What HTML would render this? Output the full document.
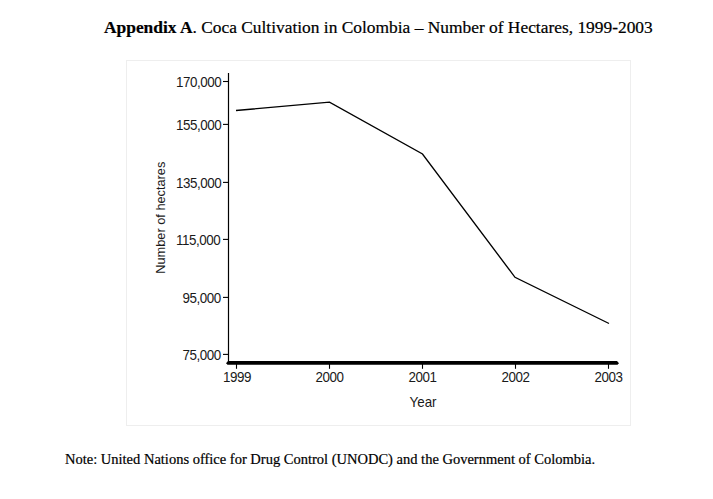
<!DOCTYPE html>
<html><head><meta charset="utf-8">
<style>
html,body{margin:0;padding:0;background:#fff;width:713px;height:499px;overflow:hidden;position:relative}
.t{position:absolute;white-space:nowrap;-webkit-text-stroke:0.2px #000;font-family:"Liberation Serif",serif;color:#000}
#title{left:104px;top:17px;font-size:17.4px}
#title b{font-weight:bold}
#note{left:65px;top:451px;font-size:14.5px}
svg{position:absolute;left:0;top:0}
.s{font-family:"Liberation Sans",sans-serif;font-size:13.4px;fill:#1a1a1a}
.d{letter-spacing:-0.45px}
</style></head><body>
<div class="t" id="title"><b>Appendix A</b>. Coca Cultivation in Colombia &ndash; Number of Hectares, 1999-2003</div>
<svg width="713" height="499" viewBox="0 0 713 499">
<rect x="126.5" y="60.5" width="504" height="365" fill="none" stroke="#eeeeee" stroke-width="1"/>
<line x1="228.5" y1="73" x2="228.5" y2="362" stroke="#000" stroke-width="1.2"/>
<g stroke="#000" stroke-width="1.1">
<line x1="223" y1="81.5" x2="228.5" y2="81.5"/>
<line x1="223" y1="124.4" x2="228.5" y2="124.4"/>
<line x1="223" y1="182.4" x2="228.5" y2="182.4"/>
<line x1="223" y1="239.4" x2="228.5" y2="239.4"/>
<line x1="223" y1="297.4" x2="228.5" y2="297.4"/>
<line x1="223" y1="354.4" x2="228.5" y2="354.4"/>
</g>
<g class="s d">
<text transform="matrix(1 0 0 1.075 176 86.8)">170,000</text>
<text transform="matrix(1 0 0 1.075 176 129.7)">155,000</text>
<text transform="matrix(1 0 0 1.075 176 187.7)">135,000</text>
<text transform="matrix(1 0 0 1.075 176 244.7)">115,000</text>
<text transform="matrix(1 0 0 1.075 182.6 302.7)">95,000</text>
<text transform="matrix(1 0 0 1.075 182.6 359.7)">75,000</text>
</g>
<polygon points="228,360.9 617,360.9 619,363.3 617.5,364.8 227.5,364.8 226,363.3" fill="#000"/>
<g stroke="#000" stroke-width="1.1">
<line x1="236.5" y1="364" x2="236.5" y2="368.8"/>
<line x1="329.5" y1="364" x2="329.5" y2="368.8"/>
<line x1="422.5" y1="364" x2="422.5" y2="368.8"/>
<line x1="515.5" y1="364" x2="515.5" y2="368.8"/>
<line x1="608.5" y1="364" x2="608.5" y2="368.8"/>
</g>
<g class="s d">
<text transform="matrix(1 0 0 1.075 223 381.8)">1999</text>
<text transform="matrix(1 0 0 1.075 315.5 381.8)">2000</text>
<text transform="matrix(1 0 0 1.075 408.5 381.8)">2001</text>
<text transform="matrix(1 0 0 1.075 501.5 381.8)">2002</text>
<text transform="matrix(1 0 0 1.075 594.5 381.8)">2003</text>
</g>
<text class="s" transform="matrix(1 0 0 1.075 409.5 406.8)">Year</text>
<text class="s" transform="translate(164.7 217.7) rotate(-90) scale(0.983 1)" text-anchor="middle" style="font-size:13px">Number of hectares</text>
<polyline points="236,110.5 329.5,102.2 422.5,154 515,277.3 609,323.5" fill="none" stroke="#000" stroke-width="1.35" stroke-linejoin="miter"/>
</svg>
<div class="t" id="note">Note: United Nations office for Drug Control (UNODC) and the Government of Colombia.</div>
</body></html>
